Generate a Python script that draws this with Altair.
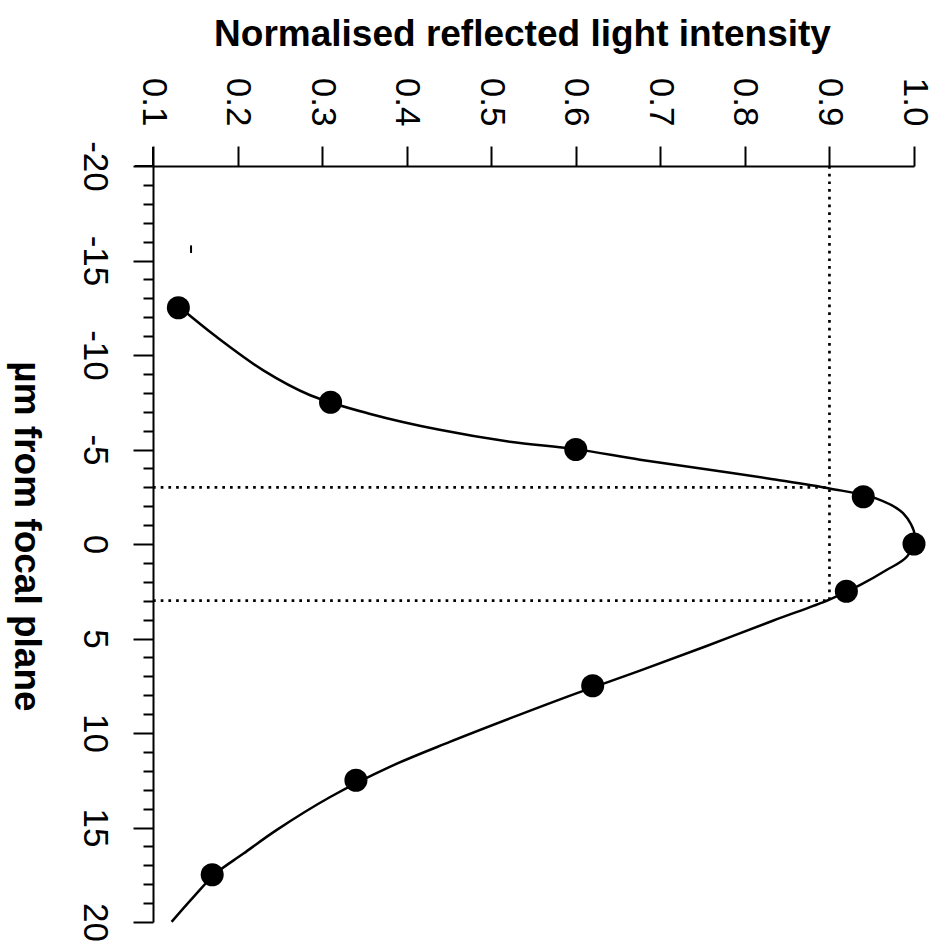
import altair as alt
import pandas as pd

# Measured data points (intensity, µm from focal plane)
point_intensity = [0.13, 0.31, 0.60, 0.94, 1.00, 0.92, 0.62, 0.34, 0.17]
point_um = [-12.5, -7.5, -5.0, -2.5, 0.0, 2.5, 7.5, 12.5, 17.5]

# Fitted curve
curve_intensity = [0.132, 0.175, 0.230, 0.286, 0.357, 0.439, 0.522, 0.599,
                   0.676, 0.754, 0.833, 0.900, 0.955, 0.987, 1.001, 0.992,
                   0.967, 0.936, 0.900, 0.833, 0.754, 0.676, 0.599, 0.522,
                   0.451, 0.380, 0.309, 0.246, 0.207, 0.174, 0.148, 0.122]
curve_um = [-12.51, -10.96, -9.20, -7.87, -6.88, -6.04, -5.41, -5.02,
            -4.46, -3.96, -3.43, -2.94, -2.41, -1.63, -0.41, 0.65,
            1.39, 2.18, 2.94, 4.06, 5.41, 6.70, 7.93, 9.23,
            10.47, 11.79, 13.40, 15.14, 16.38, 17.44, 18.67, 19.99]

# Dotted guide lines (intensity 0.9 crossing at ±3 µm)
guide_x = [0.9, 0.1, 0.1]
guide_x2 = [0.9, 0.9, 0.9]
guide_y = [-20.0, -3.0, 3.0]
guide_y2 = [3.0, -3.0, 3.0]

# small stray mark in the original
stray_x = [0.145]
stray_y = [-15.8]
stray_y2 = [-15.4]

# axis lines overshooting the corner
ext_x = [0.0787, 0.1]
ext_x2 = [0.1, 0.1]
ext_y = [-20.0, -21.0]
ext_y2 = [-20.0, -20.0]

x_ticks = [0.1, 0.2, 0.3, 0.4, 0.5, 0.6, 0.7, 0.8, 0.9, 1.0]
y_ticks = list(range(-20, 21))

FONT = "Liberation Sans"

points = pd.DataFrame({"x": point_intensity, "y": point_um})
curve = pd.DataFrame({"x": curve_intensity, "y": curve_um,
                      "o": list(range(len(curve_um)))})
guides = pd.DataFrame({"x": guide_x, "x2": guide_x2, "y": guide_y, "y2": guide_y2})
stray = pd.DataFrame({"x": stray_x, "y": stray_y, "y2": stray_y2})
ext = pd.DataFrame({"x": ext_x, "x2": ext_x2, "y": ext_y, "y2": ext_y2})

xscale = alt.Scale(domain=[0.1, 1.0], nice=False, zero=False)
yscale = alt.Scale(domain=[-20, 20], reverse=True, nice=False, zero=False)

xaxis = alt.Axis(
    orient="top", values=x_ticks, format=".1f", labelAngle=90,
    labelAlign="right", labelBaseline="middle", labelPadding=20,
    labelFont=FONT, labelFontSize=35, labelColor="black",
    tickSize=20, tickWidth=2, tickColor="black",
    domainWidth=2, domainColor="black", grid=False,
    title="Normalised reflected light intensity",
    titleFont=FONT, titleFontSize=37, titleFontWeight="bold", titleColor="black",
    titleAnchor="start", titleAlign="center", titleBaseline="alphabetic",
    titleX=369, titleY=-121,
)
yaxis = alt.Axis(
    orient="left", values=y_ticks, labelAngle=90,
    labelExpr="datum.value % 5 === 0 ? toString(datum.value) : ''",
    labelAlign="center", labelBaseline="top", labelPadding=22,
    labelFont=FONT, labelFontSize=35, labelColor="black", labelOverlap=False,
    tickSize={"condition": {"test": "datum.value % 5 === 0", "value": 20}, "value": 10},
    tickWidth=2, tickColor="black",
    domainWidth=2, domainColor="black", grid=False,
    title="µm from focal plane",
    titleFont=FONT, titleFontSize=37, titleFontWeight="bold", titleColor="black",
    titleAngle=90, titleAlign="center", titleBaseline="alphabetic",
    titleX=-139, titleY=370,
)

guide_layer = alt.Chart(guides).mark_rule(
    color="black", strokeWidth=2.7, strokeDash=[2.7, 5]
).encode(
    x=alt.X("x:Q", scale=xscale, axis=xaxis),
    x2="x2:Q",
    y=alt.Y("y:Q", scale=yscale, axis=yaxis),
    y2="y2:Q",
)

ext_layer = alt.Chart(ext).mark_rule(color="black", strokeWidth=2, clip=False).encode(
    x=alt.X("x:Q", scale=xscale, axis=xaxis),
    x2="x2:Q",
    y=alt.Y("y:Q", scale=yscale, axis=yaxis),
    y2="y2:Q",
)

curve_layer = alt.Chart(curve).mark_line(
    color="black", strokeWidth=2.5, interpolate="catmull-rom", clip=False
).encode(
    x=alt.X("x:Q", scale=xscale, axis=xaxis),
    y=alt.Y("y:Q", scale=yscale, axis=yaxis),
    order="o:Q",
)

point_layer = alt.Chart(points).mark_circle(
    color="black", opacity=1, size=530, clip=False
).encode(
    x=alt.X("x:Q", scale=xscale, axis=xaxis),
    y=alt.Y("y:Q", scale=yscale, axis=yaxis),
)

stray_layer = alt.Chart(stray).mark_rule(color="black", strokeWidth=2).encode(
    x=alt.X("x:Q", scale=xscale, axis=xaxis),
    y=alt.Y("y:Q", scale=yscale, axis=yaxis),
    y2="y2:Q",
)

chart = alt.layer(
    guide_layer, ext_layer, curve_layer, point_layer, stray_layer
).properties(
    width=761, height=756,
    autosize=alt.AutoSizeParams(type="none"),
    padding={"left": 153, "top": 166, "right": 26, "bottom": 25},
    background="white",
).configure_view(stroke=None)

chart.save("out.html", embed_options={"renderer": "svg", "actions": False})
